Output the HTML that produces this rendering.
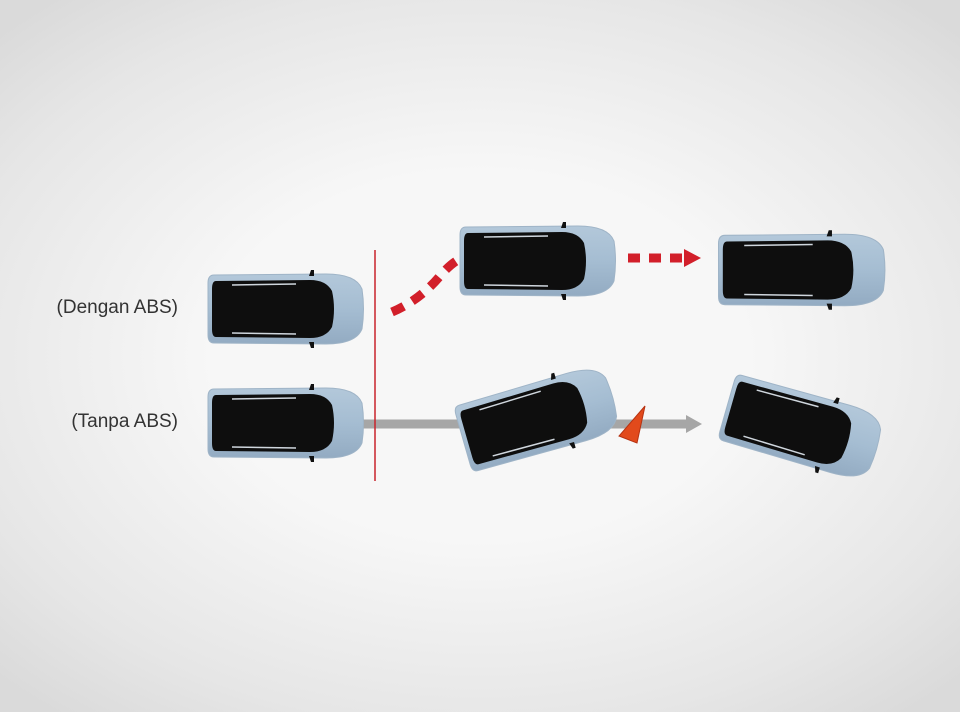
<!DOCTYPE html>
<html><head><meta charset="utf-8"><style>
html,body{margin:0;padding:0}
body{width:960px;height:712px;overflow:hidden;background:radial-gradient(ellipse 70% 65% at 50% 50%,#f7f7f7 40%,#e6e6e6 80%,#dadada 100%)}
svg{position:absolute;left:0;top:0}
</style></head><body>
<svg width="960" height="712" viewBox="0 0 960 712">
<defs>
<linearGradient id="bg" x1="0" y1="0" x2="0" y2="1">
<stop offset="0" stop-color="#b3c8da"/><stop offset="0.5" stop-color="#a5bdd2"/><stop offset="1" stop-color="#93abc2"/>
</linearGradient>
<g id="car">
<path d="M-72,-34 Q-78,-34 -78,-26 L-78,26 Q-78,34 -72,34 L40,35 Q70,35 76,20 Q79,0 76,-20 Q70,-35 40,-35 Z" fill="url(#bg)" stroke="#9fb4c7" stroke-width="1"/>
<path d="M-70,-28 Q-74,-28 -74,-20 L-74,20 Q-74,28 -70,28 L24,29 Q40,29 46,18 Q50,0 46,-18 Q40,-29 24,-29 Z" fill="#0e0e0e"/>
<path d="M-54,-24 L10,-25 M-54,24 L10,25" stroke="#cfd6dd" stroke-width="1.5"/>
<path d="M23,-33 l2,-6 l3,0 l0,6z M23,33 l2,6 l3,0 l0,-6z" fill="#111"/>
</g>
</defs>
<text x="178" y="313" font-family="Liberation Sans, sans-serif" font-size="19" fill="#333" text-anchor="end">(Dengan ABS)</text>
<text x="178" y="427" font-family="Liberation Sans, sans-serif" font-size="19" fill="#333" text-anchor="end">(Tanpa ABS)</text>
<line x1="360" y1="424" x2="688" y2="424" stroke="#a6a6a6" stroke-width="9"/>
<polygon points="686,415 702,424 686,433" fill="#a6a6a6"/>
<line x1="375" y1="250" x2="375" y2="481" stroke="#c8242c" stroke-width="1.5"/>
<path d="M392,312 Q420,300 440,276 Q452,262 462,258" fill="none" stroke="#d21f2a" stroke-width="9" stroke-dasharray="13,10"/>
<line x1="628" y1="258" x2="686" y2="258" stroke="#d21f2a" stroke-width="9" stroke-dasharray="12,9"/>
<polygon points="684,249 701,258 684,267" fill="#d21f2a"/>
<use href="#car" transform="translate(286,309)"/>
<use href="#car" transform="translate(286,423)"/>
<use href="#car" transform="translate(538,261)"/>
<use href="#car" transform="translate(802,270) scale(1.07,1.02)"/>
<use href="#car" transform="translate(538,418) rotate(-16)"/>
<use href="#car" transform="translate(802,428) rotate(16)"/>
<polygon points="645,406 619,436 637,443" fill="#e24a1c" stroke="#b63212" stroke-width="1"/>
</svg>
</body></html>
